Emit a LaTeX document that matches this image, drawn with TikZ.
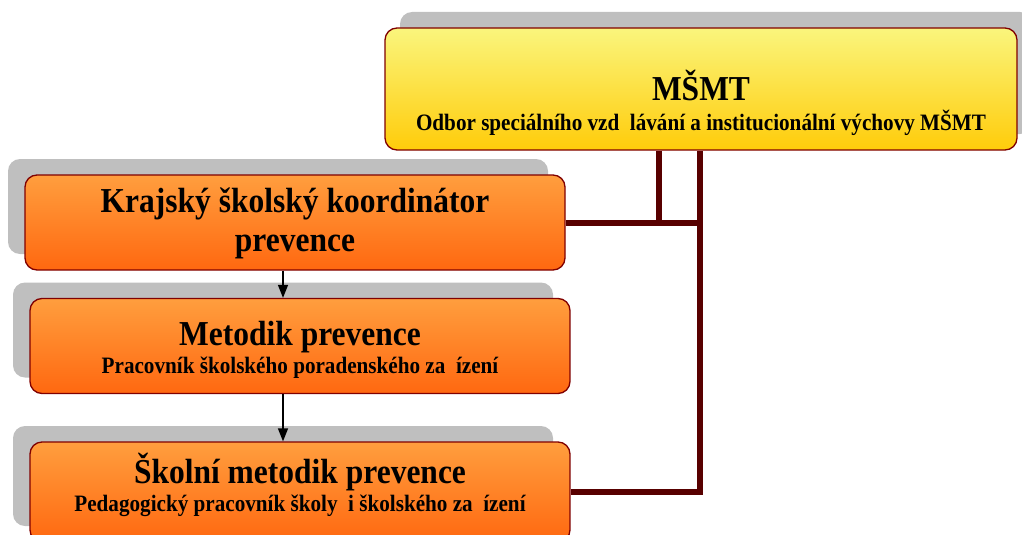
\documentclass[tikz,border=0pt]{standalone}
\usepackage{fontspec}
\setmainfont{Liberation Serif}[FakeStretch=0.9]
\usetikzlibrary{positioning, arrows.meta, calc, shadows}

\definecolor{rimred}{RGB}{128,0,0}
\definecolor{linkred}{RGB}{88,0,0}
\definecolor{yeltop}{RGB}{250,245,125}
\definecolor{yelbot}{RGB}{255,204,10}
\definecolor{ortop}{RGB}{255,158,62}
\definecolor{orbot}{RGB}{255,104,16}

\begin{document}
\begin{tikzpicture}[
    x = 1pt, y = -1pt,
    basebox/.style = {
      rectangle, draw = rimred, line width = 1.3pt, rounded corners = 12pt,
      inner sep = 0pt
    },
    box/.style = {
      basebox, minimum width = 540pt, minimum height = 95pt,
      top color = ortop, bottom color = orbot,
      general shadow = {fill = black!25, shadow xshift = -17pt, shadow yshift = 16pt}
    },
    topbox/.style = {
      basebox, minimum width = 632pt, minimum height = 122pt,
      top color = yeltop, bottom color = yelbot,
      general shadow = {fill = black!25, shadow xshift = 15pt, shadow yshift = 16pt}
    },
    title/.style = {anchor = base, font = \bfseries\fontsize{35}{39}\selectfont, align = center},
    sub/.style   = {anchor = base, font = \bfseries\fontsize{23.5}{26}\selectfont},
    link/.style  = {draw = linkred, line width = 6pt},
    arr/.style   = {-{Triangle[length = 13pt, width = 10pt]}, line width = 1.4pt}
  ]

  \useasboundingbox (0,0) rectangle (1022,535);

  % ---- MSMT ----
  \node[topbox] (msmt) at (701,89) {};
  \node[title] (msmt-t) at (701,100) {MŠMT};
  \node[sub]   (msmt-s) at (701,130) {Odbor speciálního vzd\ \ lávání a institucionální výchovy MŠMT};

  % ---- krajska uroven ----
  \node[box] (kraj) at (295,222.5) {};
  \node[title] (kraj-t) at (295,251) {Krajský školský koordinátor\\prevence};

  % ---- poradenske zarizeni ----
  \node[box] (metod) at (300,346) {};
  \node[title] (metod-t) at (300,345) {Metodik prevence};
  \node[sub]   (metod-s) at (300,373) {Pracovník školského poradenského za\ \ ízení};

  % ---- skola ----
  \node[box, minimum height = 100pt] (skol) at (300,492) {};
  \node[title] (skol-t) at (300,483) {Školní metodik prevence};
  \node[sub]   (skol-s) at (300,511) {Pedagogický pracovník školy \ i školského za\ \ ízení};

  % ---- propojeni ----
  \coordinate (k1) at (659,0);
  \coordinate (k2) at (700,0);
  \coordinate (ax) at (283,0);

  \draw[link] (msmt.south -| k1) |- (kraj.east);
  \draw[link] (kraj.east) -- (kraj.east -| k2);
  \draw[link] (msmt.south -| k2) |- (skol.east);

  \draw[arr] (kraj.south -| ax) -- (metod.north -| ax);
  \draw[arr] (metod.south -| ax) -- (skol.north -| ax);

\end{tikzpicture}
\end{document}
